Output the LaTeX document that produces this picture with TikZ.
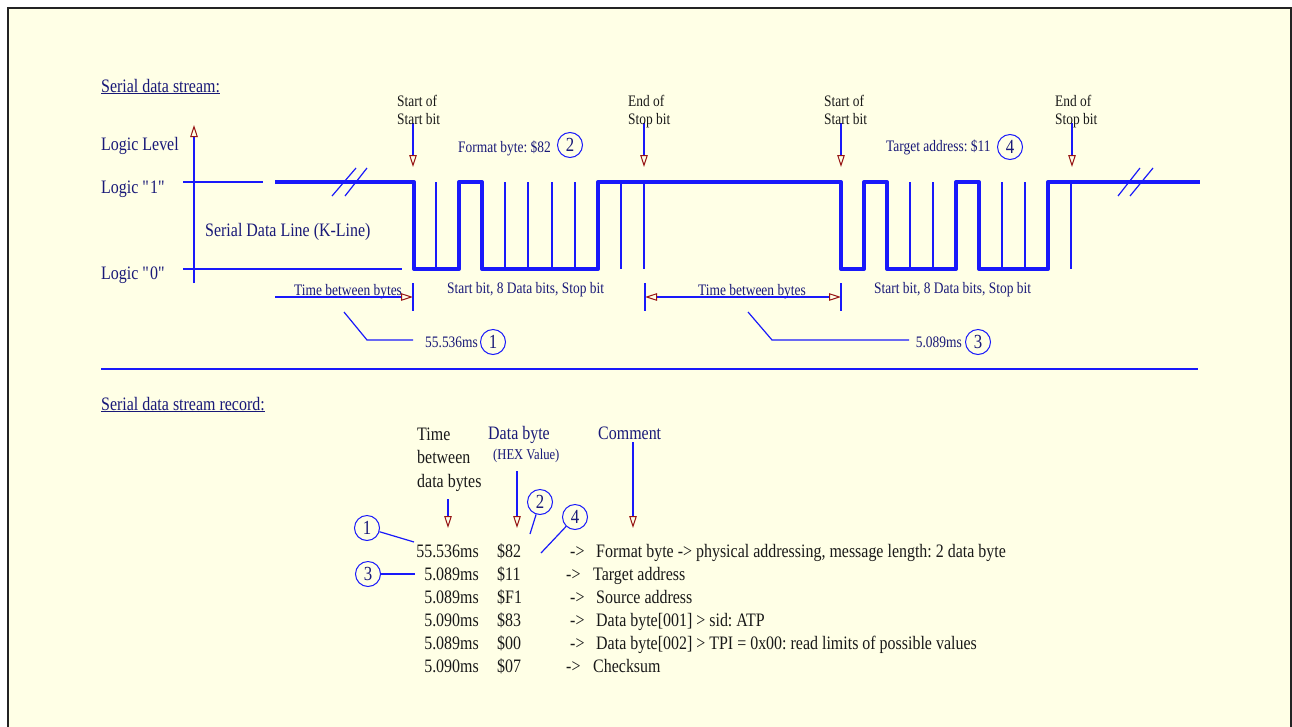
\documentclass[tikz,border=0pt]{standalone}
\usepackage{fontspec}
\setmainfont{Liberation Serif}[FakeStretch=0.84]
\usetikzlibrary{arrows.meta}
\definecolor{bg}{RGB}{255,255,230}
\definecolor{navy}{RGB}{25,25,120}
\definecolor{lblue}{RGB}{25,25,250}
\definecolor{dred}{RGB}{150,20,20}
\definecolor{ink}{RGB}{25,25,25}
\definecolor{framec}{RGB}{35,35,35}
\frenchspacing
\tikzset{
  big/.style={font=\fontsize{19}{23}\selectfont, inner sep=0pt, text=navy},
  small/.style={font=\fontsize{16}{18}\selectfont, inner sep=0pt, text=navy},
  hexv/.style={font=\fontsize{15}{17}\selectfont, inner sep=0pt, text=navy},
  blk/.style={text=ink},
  sig/.style={draw=lblue, line width=4pt, line join=round},
  thin/.style={draw=lblue, line width=1.2pt},
  otri/.tip={Triangle[open, length=12pt, width=7.5pt, color=dred, line width=1pt]},
  arr/.style={thin, -otri},
  dbl/.style={thin, otri-otri},
  num/.style={circle, draw=lblue, line width=1pt, minimum size=25pt, inner sep=0pt, text=navy, font=\fontsize{20}{20}\selectfont},
}
\begin{document}
\begin{tikzpicture}[x=1pt,y=-1pt]
\useasboundingbox (0,0) rectangle (1292,726);
\fill[white] (0,0) rectangle (1292,726);
\fill[bg] (8,8) rectangle (1291,740);
\draw[draw=framec, line width=2.5pt] (8,8) rectangle (1291,740);

% headings
\node[big, anchor=base west] (h1) at (101,92) {\underline{Serial data stream:}};
\node[big, anchor=base west] (h2) at (101,410) {\underline{Serial data stream record:}};

% axis and levels
\coordinate (ax0) at (194,283); \coordinate (ax1) at (194,125);
\draw[arr] (ax0) -- (ax1);
\coordinate (l1a) at (183,182); \coordinate (l1b) at (263,182);
\coordinate (l0a) at (183,269); \coordinate (l0b) at (402,269);
\draw[thin] (l1a) -- (l1b);
\draw[thin] (l0a) -- (l0b);
\node[big, anchor=base west] (tll) at (101,150) {Logic Level};
\node[big, anchor=base west] (tl1) at (101,193) {Logic \textquotedbl 1\textquotedbl};
\node[big, anchor=base west] (tl0) at (101,279) {Logic \textquotedbl 0\textquotedbl};
\node[big, anchor=base west] (tkl) at (205,236) {Serial Data Line (K-Line)};

% waveform
\foreach \x in {436,505,528,552,575,621,644,910,933,1002,1025,1071}
  \draw[thin] (\x,182) -- (\x,269);
\draw[sig] (275,182) -- (414,182) -- (414,269) -- (459,269) -- (459,182) -- (482,182) -- (482,269)
  -- (598,269) -- (598,182) -- (841,182) -- (841,269) -- (864,269) -- (864,182) -- (887,182)
  -- (887,269) -- (956,269) -- (956,182) -- (979,182) -- (979,269) -- (1048,269) -- (1048,182) -- (1200,182);
\draw[thin] (332,196) -- (356,168);
\draw[thin] (345,196) -- (367,168);
\draw[thin] (1118,196) -- (1140,168);
\draw[thin] (1130,196) -- (1153,168);

% markers
\foreach \x/\nm in {413/m1,644/m2,841/m3,1072/m4}{
  \coordinate (\nm a) at (\x,123); \coordinate (\nm b) at (\x,167);
  \draw[arr] (\nm a) -- (\nm b);
}
\node[small, blk, anchor=base west] (s1a) at (397,106) {Start of};
\node[small, blk, anchor=base west] (s1b) at (397,124) {Start bit};
\node[small, blk, anchor=base west] (e1a) at (628,106) {End of};
\node[small, blk, anchor=base west] (e1b) at (628,124) {Stop bit};
\node[small, blk, anchor=base west] (s2a) at (824,106) {Start of};
\node[small, blk, anchor=base west] (s2b) at (824,124) {Start bit};
\node[small, blk, anchor=base west] (e2a) at (1055,106) {End of};
\node[small, blk, anchor=base west] (e2b) at (1055,124) {Stop bit};

\node[small, anchor=base west] (fb) at (458,152) {Format byte: \$82};
\node[num] (n2t) at (570,145) {2};
\node[small, anchor=base west] (ta) at (886,151) {Target address: \$11};
\node[num] (n4t) at (1010,147) {4};

\node[small, anchor=base west] (sb1) at (447,293) {Start bit, 8 Data bits, Stop bit};
\node[small, anchor=base west] (sb2) at (874,293) {Start bit, 8 Data bits, Stop bit};

% time between bytes
\node[small, anchor=base west] (tb1) at (294,295) {Time between bytes};
\coordinate (tb1a) at (275,297); \coordinate (tb1b) at (413,297);
\draw[arr] (tb1a) -- (tb1b);
\coordinate (k1a) at (413,283); \coordinate (k1b) at (413,311);
\draw[thin] (k1a) -- (k1b);
\node[small, anchor=base] (tb2) at (752,295) {Time between bytes};
\coordinate (tb2a) at (645,297); \coordinate (tb2b) at (841,297);
\draw[dbl] (tb2a) -- (tb2b);
\coordinate (k2a) at (645,283); \coordinate (k2b) at (645,311);
\coordinate (k3a) at (841,283); \coordinate (k3b) at (841,311);
\draw[thin] (k2a) -- (k2b);
\draw[thin] (k3a) -- (k3b);

% leaders
\coordinate (q1a) at (344,312); \coordinate (q1b) at (367,340); \coordinate (q1c) at (413,340);
\draw[thin] (q1a) -- (q1b) -- (q1c);
\node[small, anchor=base west] (v1) at (425,347) {55.536ms};
\node[num] (n1t) at (493,342) {1};
\coordinate (q3a) at (748,312); \coordinate (q3b) at (772,340); \coordinate (q3c) at (909,340);
\draw[thin] (q3a) -- (q3b) -- (q3c);
\node[small, anchor=base east] (v3) at (962,347) {5.089ms};
\node[num] (n3t) at (978,342) {3};

% separator
\coordinate (sp1) at (101,369); \coordinate (sp2) at (1198,369);
\draw[thin] (sp1) -- (sp2);

% table headers
\node[big, blk, anchor=base west] (hT1) at (417,440) {Time};
\node[big, blk, anchor=base west] (hT2) at (417,463) {between};
\node[big, blk, anchor=base west] (hT3) at (417,487) {data bytes};
\node[big, anchor=base west] (hD) at (488,439) {Data byte};
\node[hexv, anchor=base west] (hH) at (493,459) {(HEX Value)};
\node[big, anchor=base west] (hC) at (598,439) {Comment};
\coordinate (ha1) at (448,499); \coordinate (hb1) at (448,528);
\coordinate (ha2) at (517,471); \coordinate (hb2) at (517,528);
\coordinate (ha3) at (633,442); \coordinate (hb3) at (633,528);
\draw[arr] (ha1) -- (hb1);
\draw[arr] (ha2) -- (hb2);
\draw[arr] (ha3) -- (hb3);

% table rows
\foreach \t/\h/\ax/\cx/\c [count=\i from 0] in {
  55.536ms/\$82/570/596/{Format byte -> physical addressing, message length: 2 data byte},
  5.089ms/\$11/566/593/{Target address},
  5.089ms/\$F1/570/596/{Source address},
  5.090ms/\$83/570/596/{Data byte[001] > sid: ATP},
  5.089ms/\$00/570/596/{Data byte[002] > TPI = 0x00: read limits of possible values},
  5.090ms/\$07/566/593/{Checksum}}{
  \node[big, blk, anchor=base east] (rt\i) at (479,557+23*\i) {\t};
  \node[big, blk, anchor=base west] (rh\i) at (497,557+23*\i) {\h};
  \node[big, blk, anchor=base west] (ra\i) at (\ax,557+23*\i) {->};
  \node[big, blk, anchor=base west] (rc\i) at (\cx,557+23*\i) {\c};
}

% table callouts
\node[num] (c1) at (367,528) {1};
\node[num] (c2) at (540,502) {2};
\node[num] (c4) at (575,517) {4};
\node[num] (c3) at (368,574) {3};
\coordinate (d1) at (414,542); \coordinate (d2) at (530,534);
\coordinate (d4) at (541,553); \coordinate (d3) at (415,574);
\draw[thin] (c1) -- (d1);
\draw[thin] (c2) -- (d2);
\draw[thin] (c4) -- (d4);
\draw[thin] (c3) -- (d3);
\end{tikzpicture}
\end{document}
